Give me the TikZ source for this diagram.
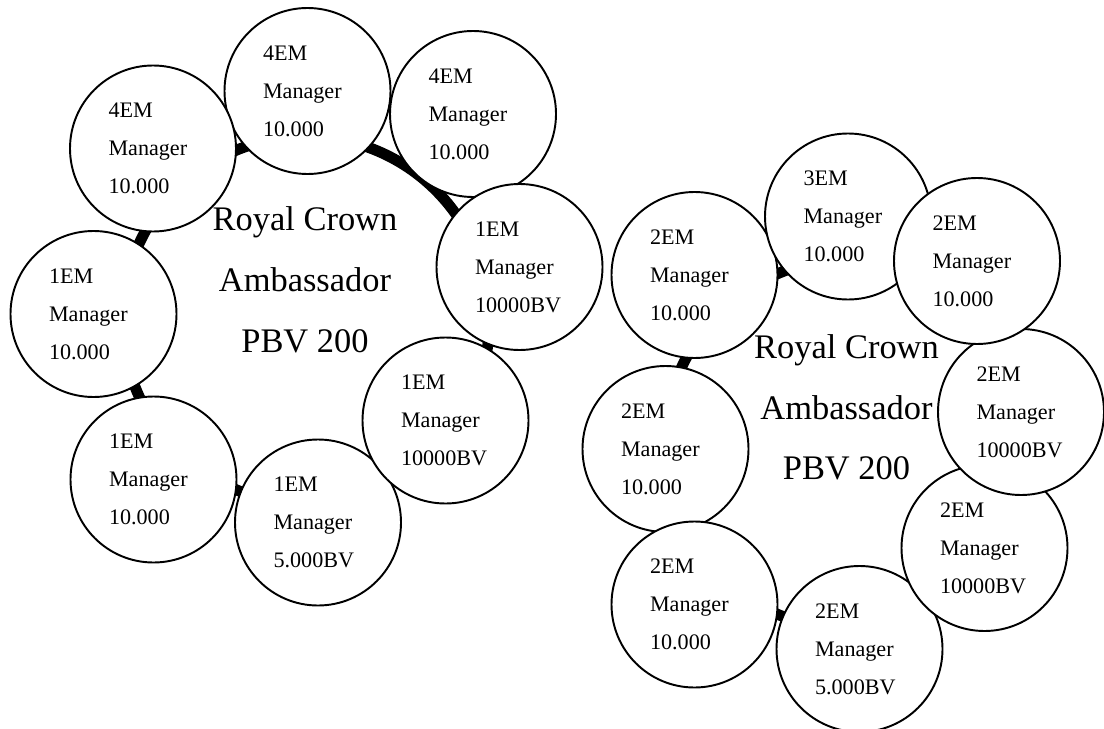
\documentclass[tikz,border=0pt]{standalone}
\usepackage{fontspec}
\setmainfont{Liberation Serif}
\usepackage{xcolor}
\usepackage{tikz}

\begin{document}
\begin{tikzpicture}[
  em/.style={circle, draw, fill=white, line width=1.1pt, minimum size=3.32cm, inner sep=0pt,
    text width=1.78cm, align=left, font=\fontsize{12.6}{21.6}\selectfont},
  ring/.style={line width=6.2pt},
  titolo/.style={align=center, font=\fontsize{19.6}{34.6}\selectfont}]
\useasboundingbox (0,0) rectangle (22.08,-14.58);

% anello sinistro
\coordinate (anellosx) at (6.12,-6.40);
\draw[ring] (anellosx) circle (3.67);
\node[titolo] (rcsx) at (6.10,-5.60) {Royal Crown\\Ambassador\\PBV 200};
\node[em] (sx1) at (6.15,-1.82) {4EM\\Manager\\10.000};
\node[em] (sx2) at (3.06,-2.97) {4EM\\Manager\\10.000};
\node[em] (sx3) at (1.87,-6.28) {1EM\\Manager\\10.000};
\node[em] (sx4) at (3.07,-9.59) {1EM\\Manager\\10.000};
\node[em] (sx5) at (6.36,-10.45) {1EM\\Manager\\5.000BV};
\node[em] (sx8) at (9.46,-2.28) {4EM\\Manager\\10.000};
\node[em] (sx6) at (8.91,-8.41) {1EM\\Manager\\10000BV};
\node[em] (sx7) at (10.39,-5.34) {1EM\\Manager\\10000BV};

% anello destro
\coordinate (anellodx) at (17.00,-8.88);
\draw[ring] (anellodx) circle (3.70);
\node[titolo] (rcdx) at (16.93,-8.15) {Royal Crown\\Ambassador\\PBV 200};
\node[em] (dx2) at (13.31,-8.98) {2EM\\Manager\\10.000};
\node[em] (dx3) at (13.89,-12.09) {2EM\\Manager\\10.000};
\node[em] (dx1) at (13.89,-5.50) {2EM\\Manager\\10.000};
\node[em] (dx8) at (16.96,-4.33) {3EM\\Manager\\10.000};
\node[em] (dx4) at (17.19,-12.98) {2EM\\Manager\\5.000BV};
\node[em] (dx5) at (19.69,-10.96) {2EM\\Manager\\10000BV};
\node[em] (dx6) at (20.42,-8.24) {2EM\\Manager\\10000BV};
\node[em] (dx7) at (19.54,-5.22) {2EM\\Manager\\10.000};
\end{tikzpicture}
\end{document}
